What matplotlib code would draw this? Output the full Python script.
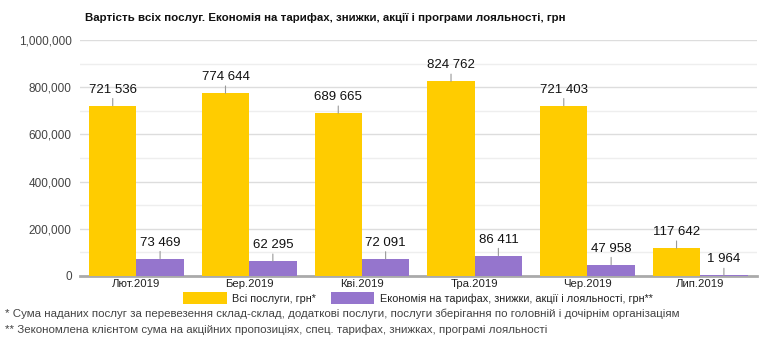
import matplotlib
matplotlib.use("Agg")
import matplotlib.pyplot as plt
import numpy as np
from matplotlib.ticker import FuncFormatter, MultipleLocator

categories = ["Лют.2019", "Бер.2019", "Кві.2019", "Тра.2019", "Чер.2019", "Лип.2019"]
all_services = [721536, 774644, 689665, 824762, 721403, 117642]
savings = [73469, 62295, 72091, 86411, 47958, 1964]
series_names = ["Всі послуги, грн*", "Економія на тарифах, знижки, акції і лояльності, грн**"]
title = "Вартість всіх послуг. Економія на тарифах, знижки, акції і програми лояльності, грн"
notes = ["* Сума наданих послуг за перевезення склад-склад, додаткові послуги, послуги зберігання по головній і дочірнім організаціям",
         "** Зекономлена клієнтом сума на акційних пропозиціях, спец. тарифах, знижках, програмі лояльності"]

plt.rcParams['font.family'] = ['Liberation Sans', 'DejaVu Sans']

fig = plt.figure(figsize=(7.8, 3.57), dpi=100)
ax = fig.add_axes([0.1026, 0.227, 0.8674, 0.661])

x = np.arange(len(categories))
w = 0.42
c1, c2 = "#FFCC00", "#9575CD"
b1 = ax.bar(x - w/2, all_services, w, color=c1, label=series_names[0], zorder=3)
b2 = ax.bar(x + w/2, savings, w, color=c2, label=series_names[1], zorder=3)

def fmt(v):
    return f"{v:,}".replace(",", " ")

for bars, vals in ((b1, all_services), (b2, savings)):
    for r, v in zip(bars, vals):
        cx = r.get_x() + r.get_width()/2
        ax.annotate(fmt(v), xy=(cx, v), xytext=(0, 10), textcoords='offset pixels',
                    ha='center', va='bottom', fontsize=9.5, color='#111111',
                    arrowprops=dict(arrowstyle='-', color='#999999', lw=0.8,
                                    shrinkA=0, shrinkB=0), zorder=4)

ax.set_xlim(-0.5, len(categories) - 0.5)
ax.set_ylim(0, 1000000)
ax.yaxis.set_major_locator(MultipleLocator(200000))
ax.yaxis.set_minor_locator(MultipleLocator(100000))
ax.yaxis.set_major_formatter(FuncFormatter(lambda v, p: f"{int(v):,}"))
ax.grid(axis='y', which='major', color='#dddddd', lw=1, zorder=0)
ax.grid(axis='y', which='minor', color='#eeeeee', lw=1, zorder=0)
ax.set_xticks(x)
ax.set_xticklabels(categories)
ax.tick_params(axis='both', which='both', length=0, labelsize=8.5, colors='#333333')
ax.tick_params(axis='x', pad=2.5, labelcolor='#222222', labelsize=8.2)
ax.tick_params(axis='y', pad=6, labelcolor='#444444')
for s in ['top', 'right', 'left']:
    ax.spines[s].set_visible(False)
ax.spines['bottom'].set_color('#aaaaaa')
ax.spines['bottom'].set_linewidth(2)

fig.text(85/780, 1 - 18/357, title, fontsize=8.25, fontweight='bold', va='center', ha='left', color='#111111')

leg = fig.legend(loc='center', bbox_to_anchor=(418/780, 1 - 298/357), ncol=2, frameon=False,
                 handlelength=4.0, handleheight=1.35, handletextpad=0.5, columnspacing=1.4,
                 prop={'size': 7.8}, borderpad=0.2)
for t in leg.get_texts():
    t.set_color('#222222')
fig.text(5/780, 1 - 314/357, notes[0], fontsize=8.25, color='#444444', va='center')
fig.text(5/780, 1 - 330/357, notes[1], fontsize=8.25, color='#444444', va='center')

fig.savefig("out.png", dpi=100)
